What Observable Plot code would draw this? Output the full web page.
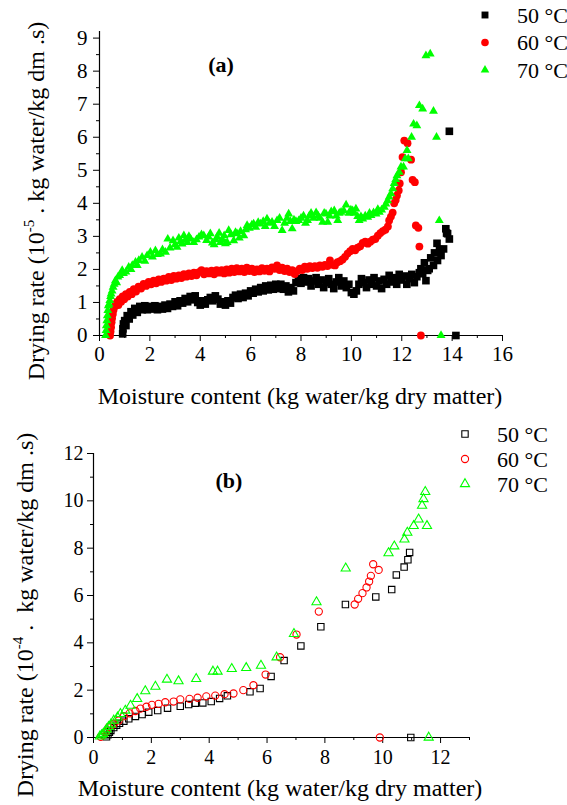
<!DOCTYPE html>
<html><head><meta charset="utf-8">
<script src="https://cdn.jsdelivr.net/npm/d3@7"></script>
<script src="https://cdn.jsdelivr.net/npm/@observablehq/plot@0.6"></script>
<style>
body{margin:0;background:#fff;}
#wrap{position:relative;width:567px;height:805px;font-family:"Liberation Serif","Times New Roman",serif;}
#pa,#pb{position:absolute;left:0;}
#pa{top:0;} #pb{top:410px;}
svg{overflow:visible;}
</style></head>
<body><div id="wrap"><div id="pa"></div><div id="pb"></div></div>
<script>
// ---------- data: panel (a)  [moisture content, drying rate x1e-5] ----------
const a50 = [[0.92,0.05],[0.93,0.2],[0.95,0.35],[1.0,0.45],[1.05,0.3],[1.1,0.6],[1.18,0.5],[1.25,0.72],[1.32,0.62],[1.4,0.82],[1.5,0.7],[1.6,0.88],[1.7,0.78],[1.8,0.9],[1.9,0.78],[2.0,0.88],[2.1,0.8],[2.2,0.9],[2.3,0.78],[2.4,0.88],[2.5,0.8],[2.6,0.92],[2.7,0.82],[2.8,0.95],[2.9,0.88],[3.0,1.02],[3.1,0.9],[3.2,1.05],[3.3,0.98],[3.4,1.12],[3.5,1.02],[3.6,1.18],[3.7,1.08],[3.8,1.2],[3.9,1.0],[4.0,0.92],[4.1,1.05],[4.2,0.95],[4.3,1.08],[4.4,1.15],[4.5,1.05],[4.6,1.2],[4.7,1.1],[4.8,0.95],[4.9,1.02],[5.0,0.92],[5.1,1.05],[5.2,0.98],[5.3,1.15],[5.4,1.22],[5.5,1.12],[5.6,1.25],[5.7,1.15],[5.8,1.28],[5.9,1.2],[6.0,1.35],[6.1,1.28],[6.2,1.4],[6.3,1.32],[6.4,1.45],[6.5,1.35],[6.6,1.5],[6.7,1.38],[6.8,1.52],[6.9,1.4],[7.0,1.55],[7.1,1.42],[7.2,1.55],[7.3,1.4],[7.4,1.5],[7.5,1.32],[7.6,1.45],[7.7,1.35],[7.8,1.6],[7.9,1.72],[8.0,1.58],[8.1,1.75],[8.2,1.62],[8.3,1.72],[8.4,1.5],[8.5,1.65],[8.6,1.75],[8.7,1.55],[8.8,1.68],[8.9,1.45],[9.0,1.6],[9.1,1.72],[9.2,1.55],[9.3,1.42],[9.4,1.62],[9.5,1.75],[9.6,1.5],[9.7,1.65],[9.8,1.45],[9.9,1.55],[10.0,1.3],[10.1,1.25],[10.2,1.35],[10.3,1.55],[10.4,1.72],[10.5,1.6],[10.6,1.45],[10.7,1.68],[10.8,1.55],[10.9,1.75],[11.0,1.5],[11.1,1.65],[11.2,1.42],[11.3,1.7],[11.4,1.55],[11.5,1.82],[11.6,1.62],[11.7,1.75],[11.8,1.55],[11.9,1.85],[12.0,1.68],[12.1,1.8],[12.2,1.55],[12.3,1.72],[12.4,1.85],[12.5,1.6],[12.6,1.78],[12.7,1.9],[12.76,2.02],[12.83,1.87],[12.9,2.2],[12.96,1.66],[13.03,1.97],[13.09,2.02],[13.15,2.35],[13.26,2.12],[13.3,2.5],[13.40,2.79],[13.42,2.27],[13.5,2.6],[13.56,2.42],[13.66,2.62],[13.75,3.23],[13.78,3.1],[13.82,3.08],[13.89,2.92],[13.89,6.18],[14.15,0]];
const a60 = [[0.42,0.0],[0.44,0.12],[0.46,0.25],[0.48,0.4],[0.5,0.52],[0.53,0.65],[0.56,0.78],[0.6,0.88],[0.65,0.95],[0.7,1.02],[0.75,0.92],[0.8,1.1],[0.86,1.02],[0.92,1.18],[0.98,1.1],[1.05,1.25],[1.12,1.18],[1.2,1.32],[1.28,1.25],[1.36,1.4],[1.45,1.33],[1.55,1.48],[1.65,1.42],[1.75,1.56],[1.85,1.5],[1.95,1.62],[2.05,1.55],[2.15,1.66],[2.25,1.58],[2.35,1.7],[2.45,1.62],[2.55,1.72],[2.65,1.66],[2.75,1.77],[2.85,1.68],[2.95,1.8],[3.05,1.72],[3.15,1.82],[3.25,1.74],[3.35,1.86],[3.45,1.78],[3.55,1.88],[3.65,1.8],[3.75,1.9],[3.85,1.82],[3.95,1.92],[4.05,1.98],[4.15,1.85],[4.25,1.95],[4.35,1.88],[4.45,1.96],[4.55,1.85],[4.65,1.98],[4.75,1.9],[4.85,1.98],[4.95,1.88],[5.05,2.0],[5.15,1.9],[5.25,2.02],[5.35,1.92],[5.45,2.04],[5.55,1.94],[5.65,2.02],[5.75,1.92],[5.85,2.05],[5.95,1.95],[6.05,2.02],[6.15,1.92],[6.25,2.0],[6.35,1.94],[6.45,2.04],[6.55,1.96],[6.65,2.02],[6.75,1.94],[6.85,2.06],[6.95,2.02],[7.05,2.12],[7.15,1.98],[7.25,2.05],[7.35,1.95],[7.45,2.02],[7.55,1.92],[7.65,1.98],[7.75,1.86],[7.85,1.95],[7.95,2.02],[8.05,1.98],[8.15,2.08],[8.25,2.02],[8.35,2.1],[8.45,2.04],[8.55,2.1],[8.65,2.05],[8.75,2.12],[8.85,2.08],[8.95,2.14],[9.05,2.1],[9.15,2.27],[9.25,2.14],[9.35,2.12],[9.45,2.22],[9.55,2.25],[9.65,2.3],[9.75,2.38],[9.85,2.48],[9.95,2.55],[10.05,2.62],[10.15,2.58],[10.25,2.66],[10.35,2.7],[10.45,2.8],[10.55,2.84],[10.65,2.78],[10.75,2.84],[10.85,2.9],[10.95,2.92],[11.05,3.02],[11.15,3.1],[11.25,3.16],[11.35,3.2],[11.45,3.3],[11.5,3.48],[11.57,3.6],[11.64,3.72],[11.70,4.0],[11.76,4.1],[11.81,4.24],[11.88,4.39],[11.92,4.6],[11.97,4.94],[12.03,5.4],[12.10,5.9],[12.23,5.82],[12.37,5.32],[12.43,4.71],[12.52,4.64],[12.56,3.33],[12.66,3.26],[12.70,2.69],[12.76,0]];
const a70 = [[0.24,0],[0.26,0.15],[0.27,0.3],[0.29,0.45],[0.31,0.6],[0.33,0.76],[0.35,0.9],[0.38,0.95],[0.41,1.06],[0.44,1.18],[0.46,1.26],[0.5,1.35],[0.54,1.46],[0.58,1.55],[0.63,1.66],[0.68,1.6],[0.73,1.77],[0.8,1.82],[0.9,1.97],[0.95,1.88],[1.05,1.92],[1.16,2.07],[1.25,2.0],[1.30,2.12],[1.43,2.22],[1.5,2.12],[1.56,2.27],[1.69,2.37],[1.80,2.25],[1.89,2.42],[2.02,2.52],[2.1,2.38],[2.22,2.57],[2.3,2.45],[2.42,2.47],[2.5,2.6],[2.62,2.52],[2.71,2.92],[2.80,2.65],[2.92,2.87],[3.0,2.75],[3.08,2.67],[3.15,2.95],[3.22,2.85],[3.28,2.77],[3.35,3.02],[3.42,2.9],[3.48,2.82],[3.55,3.0],[3.62,2.92],[3.74,2.82],[3.85,2.9],[3.95,2.98],[4.05,3.05],[4.14,3.02],[4.25,2.88],[4.33,2.98],[4.40,3.08],[4.48,2.8],[4.55,2.75],[4.62,2.9],[4.67,2.98],[4.75,3.1],[4.80,2.82],[4.88,2.9],[4.95,3.02],[5.0,2.78],[5.07,2.82],[5.13,3.18],[5.22,3.05],[5.33,2.87],[5.4,3.12],[5.46,3.08],[5.55,2.95],[5.6,3.15],[5.73,3.02],[5.8,3.2],[5.86,3.33],[5.95,3.25],[6.05,3.35],[6.12,3.38],[6.2,3.28],[6.3,3.42],[6.39,3.38],[6.5,3.45],[6.58,3.3],[6.65,3.53],[6.75,3.4],[6.85,3.43],[6.95,3.3],[7.05,3.48],[7.15,3.55],[7.25,3.18],[7.35,3.4],[7.45,3.55],[7.51,3.68],[7.58,3.45],[7.65,3.23],[7.72,3.5],[7.8,3.45],[7.91,3.48],[8.0,3.55],[8.1,3.62],[8.18,3.4],[8.26,3.48],[8.33,3.62],[8.4,3.7],[8.5,3.55],[8.60,3.72],[8.68,3.62],[8.75,3.55],[8.86,3.43],[8.92,3.7],[8.99,3.68],[9.06,3.43],[9.14,3.62],[9.2,3.75],[9.32,3.78],[9.4,3.62],[9.46,3.48],[9.52,3.7],[9.59,3.73],[9.7,3.78],[9.79,3.95],[9.9,3.7],[9.98,3.8],[10.05,3.78],[10.12,3.7],[10.18,3.83],[10.25,3.6],[10.31,3.48],[10.38,3.6],[10.45,3.53],[10.55,3.62],[10.65,3.58],[10.72,3.7],[10.78,3.63],[10.88,3.72],[10.98,3.68],[11.05,3.82],[11.11,3.73],[11.2,3.8],[11.31,3.88],[11.37,3.98],[11.44,4.08],[11.5,4.19],[11.57,4.29],[11.64,4.44],[11.7,4.6],[11.76,4.72],[11.81,4.84],[11.9,4.94],[11.97,5.1],[12.07,5.1],[12.14,5.35],[12.21,5.6],[12.26,5.35],[12.39,6.0],[12.47,6.40],[12.60,6.35],[12.70,6.96],[12.83,6.86],[12.96,8.47],[13.13,8.52],[13.26,6.79],[13.38,6.0],[13.49,3.48],[13.56,0]];

// ---------- data: panel (b)  [moisture content, drying rate x1e-4] ----------
const b50 = [[0.45,0.03],[0.5,0.12],[0.55,0.22],[0.6,0.3],[0.7,0.42],[0.8,0.52],[0.9,0.6],[1.05,0.69],[1.22,0.79],[1.45,0.89],[1.68,0.97],[1.91,1.07],[2.22,1.14],[2.56,1.24],[3.0,1.32],[3.29,1.39],[3.52,1.45],[3.78,1.46],[4.07,1.52],[4.36,1.65],[4.63,1.76],[5.41,1.93],[5.76,2.07],[6.14,2.58],[6.59,3.25],[7.17,3.87],[7.86,4.68],[8.71,5.62],[9.76,5.94],[10.31,6.25],[10.47,6.87],[10.74,7.20],[10.87,7.51],[10.93,7.82],[10.97,0]];
const b60 = [[0.25,0.03],[0.32,0.1],[0.4,0.2],[0.46,0.3],[0.53,0.44],[0.62,0.5],[0.70,0.58],[0.87,0.72],[1.05,0.90],[1.25,1.02],[1.45,1.12],[1.62,1.22],[1.83,1.3],[2.02,1.38],[2.25,1.42],[2.48,1.49],[2.77,1.52],[3.00,1.61],[3.32,1.63],[3.60,1.68],[3.90,1.74],[4.21,1.77],[4.53,1.83],[4.84,1.86],[5.18,2.00],[5.53,2.21],[5.95,2.66],[6.45,3.39],[7.02,4.35],[7.79,5.32],[9.03,5.62],[9.15,5.86],[9.30,6.10],[9.44,6.34],[9.53,6.59],[9.59,6.83],[9.67,7.32],[9.86,7.08],[9.9,0]];
const b70 = [[0.22,0.05],[0.28,0.1],[0.34,0.16],[0.4,0.25],[0.46,0.35],[0.52,0.45],[0.6,0.55],[0.70,0.72],[0.83,0.85],[0.93,1.0],[1.10,1.14],[1.28,1.35],[1.51,1.63],[1.79,1.96],[2.14,2.15],[2.54,2.45],[2.94,2.38],[3.55,2.48],[4.13,2.79],[4.29,2.79],[4.78,2.90],[5.28,2.94],[5.79,3.04],[6.33,3.39],[6.93,4.38],[7.71,5.72],[8.72,7.15],[10.20,7.79],[10.40,8.08],[10.75,8.37],[10.85,8.66],[11.07,8.94],[11.24,9.22],[11.36,9.80],[11.41,10.08],[11.47,10.38],[11.53,8.94],[11.59,0]];

// ---------- ticks & labels ----------
const aXTicks = [0,2,4,6,8,10,12,14,16];
const aXMinor = [1,3,5,7,9,11,13,15];
const aYTicks = [0,1,2,3,4,5,6,7,8,9];
const aYMinor = [0.5,1.5,2.5,3.5,4.5,5.5,6.5,7.5,8.5];
const bXTicks = [0,2,4,6,8,10,12];
const bXMinor = [1,3,5,7,9,11,13];
const bYTicks = [0,2,4,6,8,10,12];
const bYMinor = [1,3,5,7,9,11];
const seriesNames = ["50 °C","60 °C","70 °C"];
const seriesColors = ["#000000","#ff0000","#00ff00"];
const xLabel = "Moisture content (kg water/kg dry matter)";

const px = d => d[0], py = d => d[1];
const font = '"Liberation Serif","Times New Roman",serif';

function axes(xT, xM, yT, yM, tickFont, ytickPad, xtickPad) {
  return [
    Plot.ruleX([0], {stroke:"#000", strokeWidth:1.2}),
    Plot.ruleY([0], {stroke:"#000", strokeWidth:1.2}),
    Plot.axisX(xT, {tickSize:6, tickPadding:xtickPad, label:null, fontSize:tickFont}),
    Plot.axisX(xM, {tickSize:3, tickFormat:() => "", label:null}),
    Plot.axisY(yT, {tickSize:6, tickPadding:ytickPad, label:null, fontSize:tickFont}),
    Plot.axisY(yM, {tickSize:3, tickFormat:() => "", label:null})
  ];
}

// ---------- panel (a) ----------
const plotA = Plot.plot({
  width:567, height:410, marginLeft:99, marginRight:65, marginTop:31, marginBottom:75,
  x:{domain:[0,16]}, y:{domain:[0,9.2]},
  style:{fontFamily:font, fontSize:"21px", background:"transparent", overflow:"visible"},
  marks:[
    ...axes(aXTicks, aXMinor, aYTicks, aYMinor, 21, 6, 5),
    Plot.dot(a50, {x:px, y:py, symbol:"square", r:4.3, fill:seriesColors[0], stroke:"none"}),
    Plot.dot(a60, {x:px, y:py, symbol:"circle", r:3.9, fill:seriesColors[1], stroke:"none"}),
    Plot.dot(a70, {x:px, y:py, symbol:"triangle", r:3.3, fill:seriesColors[2], stroke:"none"})
  ]
});
document.getElementById("pa").appendChild(plotA);

// ---------- panel (b) ----------
const plotB = Plot.plot({
  width:567, height:395, marginLeft:93, marginRight:98, marginTop:43, marginBottom:68,
  x:{domain:[0,13]}, y:{domain:[0,12]},
  style:{fontFamily:font, fontSize:"20px", background:"transparent", overflow:"visible"},
  marks:[
    ...axes(bXTicks, bXMinor, bYTicks, bYMinor, 20, 4, 6),
    Plot.dot(b50, {x:px, y:py, symbol:"square", r:3.6, fill:"none", stroke:seriesColors[0], strokeWidth:1.1}),
    Plot.dot(b60, {x:px, y:py, symbol:"circle", r:3.6, fill:"none", stroke:seriesColors[1], strokeWidth:1.1}),
    Plot.dot(b70, {x:px, y:py, symbol:"triangle", r:3.4, fill:"none", stroke:seriesColors[2], strokeWidth:1.1})
  ]
});
document.getElementById("pb").appendChild(plotB);

// ---------- annotations (labels, titles, legends) ----------
function decorate(svg, o) {
  const s = d3.select(svg);
  const yl = s.append("text")
    .attr("transform", `translate(${o.ylx},${o.yly}) rotate(-90)`)
    .attr("text-anchor","middle").attr("font-size", o.labelSize).attr("fill","#000");
  yl.append("tspan").text("Drying rate (10");
  yl.append("tspan").attr("dy",-10).attr("font-size", 15).text(o.exp);
  yl.append("tspan").attr("dy",10).text(o.yrest);
  s.append("text").attr("x", o.xlx).attr("y", o.xly).attr("text-anchor","middle")
    .attr("font-size", o.labelSize).attr("fill","#000").text(xLabel);
  s.append("text").attr("x", o.tx).attr("y", o.ty).attr("text-anchor","middle")
    .attr("font-size", 22).attr("font-weight","bold").attr("fill","#000").text(o.title);
  const syms = [d3.symbolSquare, d3.symbolCircle, d3.symbolTriangle];
  const rs = o.legR;
  seriesNames.forEach((name, i) => {
    const cy = o.lgy + i * o.lgdy;
    s.append("path").attr("transform", `translate(${o.lgx},${cy})`)
      .attr("d", d3.symbol(syms[i], rs[i]*rs[i]*Math.PI)())
      .attr("fill", o.filled ? seriesColors[i] : "none")
      .attr("stroke", o.filled ? "none" : seriesColors[i])
      .attr("stroke-width", 1.1);
    s.append("text").attr("x", o.lgtx).attr("y", cy + 7.5).attr("font-size", 22)
      .attr("text-anchor","start").attr("fill","#000").text(name);
  });
}
decorate(plotA, {ylx:44, yly:201, exp:"-5", yrest:" . kg water/kg dm .s)", xlx:300, xly:404,
  labelSize:24, tx:221, ty:72, title:"(a)", lgx:485, lgy:15, lgdy:27.5, lgtx:517, filled:true, legR:[3.9,3.8,3.2]});
decorate(plotB, {ylx:33, yly:205, exp:"-4", yrest:" .  kg water/kg dm .s)", xlx:280, xly:386,
  labelSize:24, tx:229, ty:78, title:"(b)", lgx:465, lgy:24, lgdy:25, lgtx:497, filled:false, legR:[3.6,3.6,3.4]});
</script>
</body></html>
